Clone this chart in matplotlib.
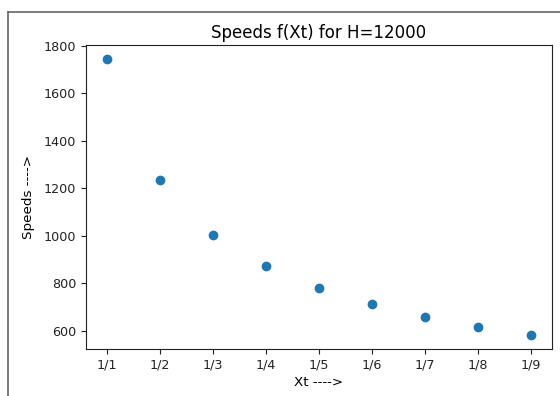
import matplotlib
matplotlib.use("Agg")
import matplotlib.pyplot as plt
from matplotlib.lines import Line2D

# ── Data ─────────────────────────────────────────────────────────────────────
XT_LABELS = ["1/1", "1/2", "1/3", "1/4", "1/5", "1/6", "1/7", "1/8", "1/9"]
SPEEDS = [1745, 1235, 1005, 875, 780, 712, 658, 617, 582]

TICK_FS = 9.2
LABEL_FS = 9.7

fig = plt.figure(figsize=(5.6, 3.96), dpi=100)
ax = fig.add_axes([86 / 560, 1 - 349 / 396, 466 / 560, (349 - 45) / 396])

ax.scatter(range(len(SPEEDS)), SPEEDS, s=36, color="#1f77b4", zorder=3)

ax.set_xticks(range(len(XT_LABELS)))
ax.set_xticklabels(XT_LABELS)
ax.set_yticks([600, 800, 1000, 1200, 1400, 1600, 1800])
ax.tick_params(labelsize=TICK_FS, length=3.5, width=0.8, colors="#222")
for s in ax.spines.values():
    s.set_color("#222")
    s.set_linewidth(0.8)

ax.set_title("Speeds f(Xt) for H=12000", fontsize=12, pad=5)
ax.set_xlabel("Xt ---->", fontsize=LABEL_FS, labelpad=3)
ax.set_ylabel("Speeds ---->", fontsize=LABEL_FS, labelpad=6)

# screenshot frame (left and top edges)
fig.add_artist(Line2D([7.5 / 560, 7.5 / 560], [0, 1 - 12 / 396],
                      transform=fig.transFigure, color="#666", lw=1.2))
fig.add_artist(Line2D([7.5 / 560, 1], [1 - 12 / 396, 1 - 12 / 396],
                      transform=fig.transFigure, color="#666", lw=1.2))

fig.savefig("out.png", dpi=100, facecolor="white")
